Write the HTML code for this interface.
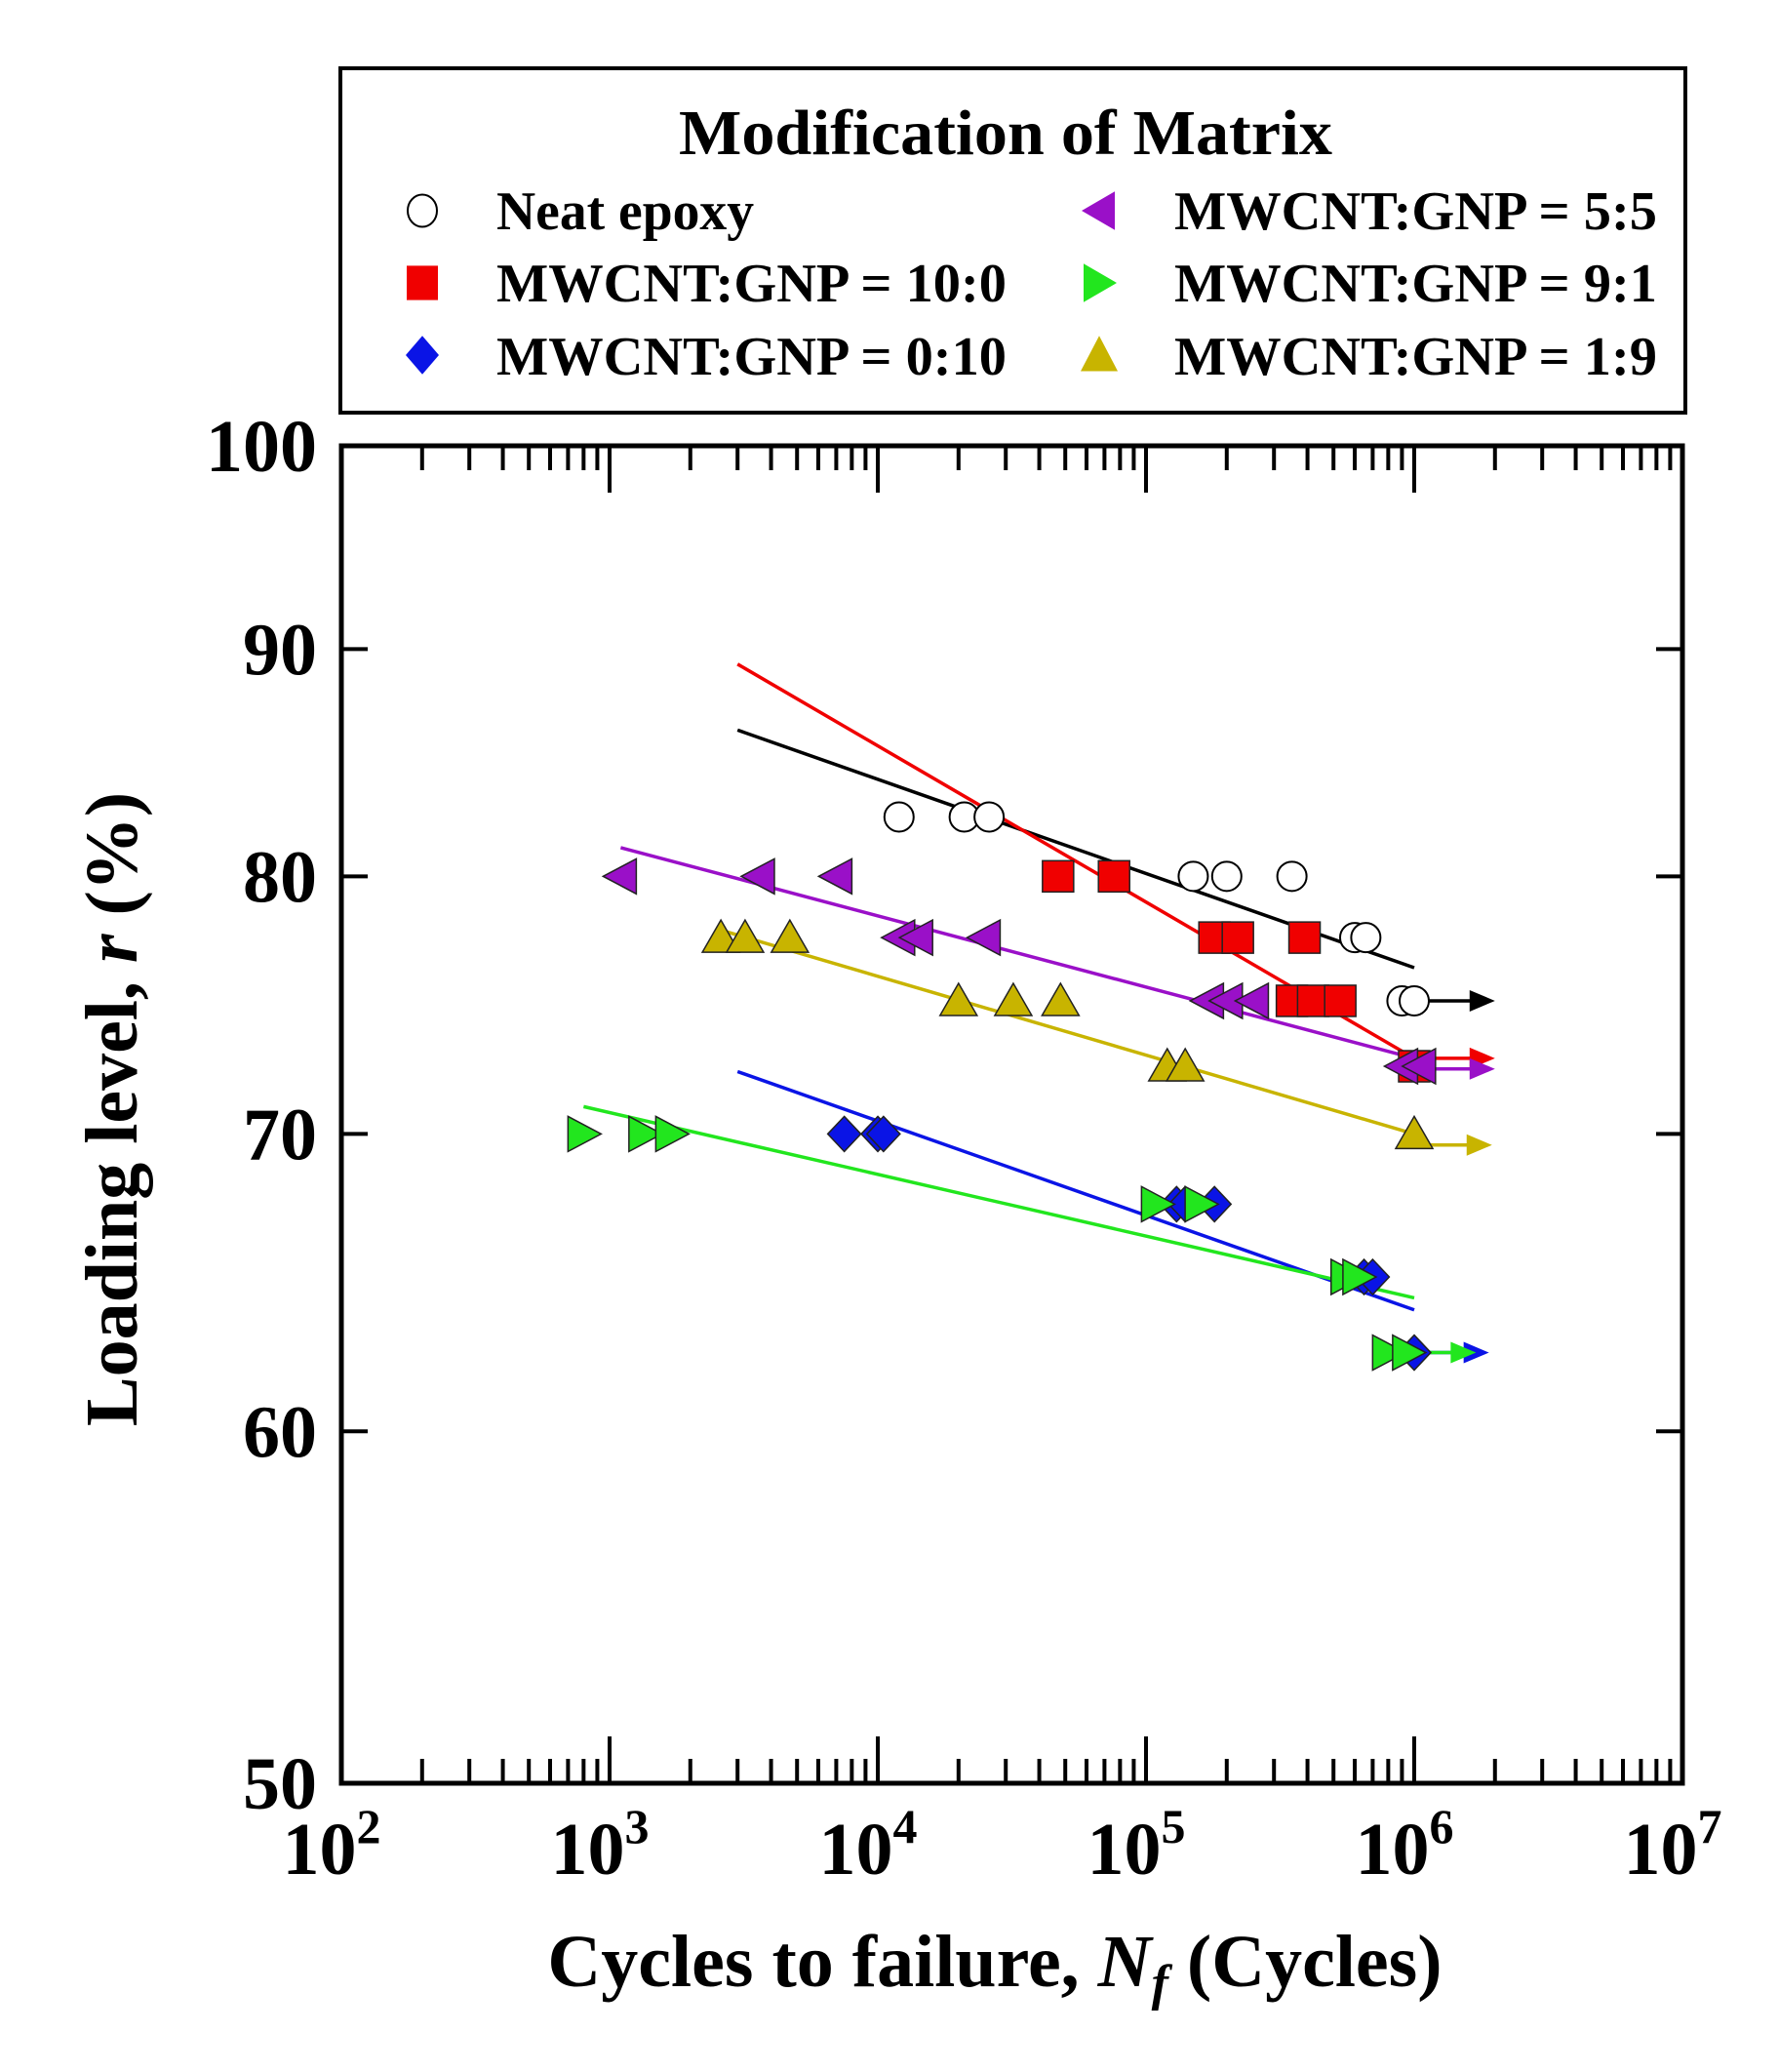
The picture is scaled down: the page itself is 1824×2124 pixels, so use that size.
<!DOCTYPE html>
<html><head><meta charset="utf-8"><style>
html,body{margin:0;padding:0;background:#fff;}
svg{display:block;}
text{font-family:"Liberation Serif",serif;font-weight:bold;fill:#000;}
</style></head><body>
<svg id="s" width="1824" height="2124" viewBox="0 0 1824 2124" xmlns="http://www.w3.org/2000/svg">
<rect x="0" y="0" width="1824" height="2124" fill="#fff"/>
<rect x="349" y="70" width="1379" height="353" fill="none" stroke="#000" stroke-width="4"/>
<text x="1031" y="158" font-size="66" text-anchor="middle" textLength="670" lengthAdjust="spacingAndGlyphs">Modification of Matrix</text>
<g font-size="56">
<text x="509" y="235" textLength="264" lengthAdjust="spacingAndGlyphs">Neat epoxy</text>
<text x="509" y="309" textLength="523" lengthAdjust="spacingAndGlyphs">MWCNT:GNP = 10:0</text>
<text x="509" y="384" textLength="523" lengthAdjust="spacingAndGlyphs">MWCNT:GNP = 0:10</text>
<text x="1204" y="235" textLength="495" lengthAdjust="spacingAndGlyphs">MWCNT:GNP = 5:5</text>
<text x="1204" y="309" textLength="495" lengthAdjust="spacingAndGlyphs">MWCNT:GNP = 9:1</text>
<text x="1204" y="384" textLength="495" lengthAdjust="spacingAndGlyphs">MWCNT:GNP = 1:9</text>
</g>
<g id="leg"></g>
<rect x="350" y="457" width="1375" height="1371" fill="none" stroke="#000" stroke-width="5"/>
<g id="ticks" stroke="#000" stroke-width="4"></g>
<g id="lines" stroke-width="3.5" fill="none"></g>
<g id="marks" stroke="#222" stroke-width="1.5"></g>
<g font-size="76" text-anchor="end" id="yl"></g>
<g font-size="76" text-anchor="middle" id="xl"></g>
<text x="1020" y="2036" font-size="76" text-anchor="middle">Cycles to failure, <tspan font-style="italic">N</tspan><tspan font-style="italic" font-size="52" dy="14">f</tspan><tspan dy="-14"> (Cycles)</tspan></text>
<text transform="translate(140,1137) rotate(-90)" font-size="76" text-anchor="middle">Loading level, <tspan font-style="italic">r</tspan> (%)</text>
</svg>
<script>
var NS="http://www.w3.org/2000/svg";
function X(v){return 350+275*(Math.log10(v)-2);}
function Y(r){return 457+4554*Math.log10(100/r);}
function el(p,t,a){var e=document.createElementNS(NS,t);for(var k in a)e.setAttribute(k,a[k]);document.getElementById(p).appendChild(e);return e;}
for(var d=2;d<7;d++){for(var m=1;m<10;m++){var x=X(m*Math.pow(10,d));var L=(m==1)?48:25;if(m==1&&d==2)continue;
el("ticks","line",{x1:x,y1:457,x2:x,y2:457+L});el("ticks","line",{x1:x,y1:1828,x2:x,y2:1828-L});}}
[90,80,70,60].forEach(function(r){var y=Y(r);el("ticks","line",{x1:350,y1:y,x2:377,y2:y});el("ticks","line",{x1:1725,y1:y,x2:1698,y2:y});});
[100,90,80,70,60,50].forEach(function(r){var t=el("yl","text",{x:325,y:Y(r)+26});t.textContent=r;});
for(var d=2;d<=7;d++){var t=el("xl","text",{x:X(Math.pow(10,d))-10,y:1921});t.textContent="10";var ts=document.createElementNS(NS,"tspan");ts.setAttribute("font-size","50");ts.setAttribute("dy","-32");ts.textContent=d;t.appendChild(ts);}
function marker(g,type,cx,cy,col,sy){var s=16;sy=sy||1;
 if(type=="o")el(g,"ellipse",{cx:cx,cy:cy,rx:15,ry:15*sy,fill:"#fff",stroke:"#000","stroke-width":2});
 else if(type=="s")el(g,"rect",{x:cx-s,y:cy-s*sy,width:2*s,height:2*s*sy,fill:col});
 else if(type=="d")el(g,"polygon",{points:[cx,cy-18*sy,cx+17,cy,cx,cy+18*sy,cx-17,cy].join(" "),fill:col});
 else if(type=="l")el(g,"polygon",{points:[cx-18,cy,cx+16,cy-18*sy,cx+16,cy+18*sy].join(" "),fill:col});
 else if(type=="r")el(g,"polygon",{points:[cx+18,cy,cx-16,cy-18*sy,cx-16,cy+18*sy].join(" "),fill:col});
 else if(type=="t")el(g,"polygon",{points:[cx,cy-18*sy,cx+19,cy+15*sy,cx-19,cy+15*sy].join(" "),fill:col});}
var S=[
{t:"o",c:"#000",p:[[1.2e4,82.5],[2.1e4,82.5],[2.6e4,82.5],[1.5e5,80],[2e5,80],[3.5e5,80],[6e5,77.5],[6.6e5,77.5],[9e5,75],[1e6,75]],l:[3e3,86.3,1e6,76.3],a:[1.05e6,75,2e6,75]},
{t:"s",c:"#f00000",p:[[4.7e4,80],[7.6e4,80],[1.8e5,77.5],[2.2e5,77.5],[3.9e5,77.5],[3.5e5,75],[4.2e5,75],[5.3e5,75],[1e6,72.5]],l:[3e3,89.3,1e6,72.8],a:[1.05e6,72.8,2e6,72.8]},
{t:"l",c:"#9a10c8",p:[[1.1e3,80],[3.6e3,80],[7e3,80],[1.2e4,77.5],[1.4e4,77.5],[2.5e4,77.5],[1.7e5,75],[2e5,75],[2.5e5,75],[9e5,72.5],[1.05e6,72.5]],l:[1.1e3,81.2,1e6,72.8],a:[1.05e6,72.4,2e6,72.4]},
{t:"t",c:"#c8b400",p:[[2.6e3,77.5],[3.2e3,77.5],[4.7e3,77.5],[2e4,75],[3.2e4,75],[4.8e4,75],[1.2e5,72.5],[1.4e5,72.5],[1e6,70]],l:[2.6e3,77.8,1e6,70],a:[1.05e6,69.6,1.95e6,69.6]},
{t:"d",c:"#0a14e6",p:[[7.5e3,70],[1e4,70],[1.05e4,70],[1.3e5,67.5],[1.4e5,67.5],[1.8e5,67.5],[6.5e5,65],[7e5,65],[1e6,62.5]],l:[3e3,72.3,1e6,63.9],a:[1.05e6,62.5,1.9e6,62.5]},
{t:"r",c:"#22e61e",p:[[8e2,70],[1.35e3,70],[1.7e3,70],[1.1e5,67.5],[1.6e5,67.5],[5.6e5,65],[6.2e5,65],[8e5,62.5],[9.5e5,62.5]],l:[8e2,71,1e6,64.3],a:[1.05e6,62.5,1.7e6,62.5]}];
S.forEach(function(s){var lc=s.t=="o"?"#000":s.c;
 el("lines","line",{x1:X(s.l[0]),y1:Y(s.l[1]),x2:X(s.l[2]),y2:Y(s.l[3]),stroke:lc});
 var ax2=X(s.a[2]),ay=Y(s.a[3]);
 el("lines","line",{x1:X(s.a[0]),y1:Y(s.a[1]),x2:ax2-14,y2:ay,stroke:lc});
 el("lines","polygon",{points:[ax2,ay,ax2-26,ay-11,ax2-26,ay+11].join(" "),fill:lc,stroke:"none"});
 s.p.forEach(function(p){marker("marks",s.t,X(p[0]),Y(p[1]),s.c);});});
marker("leg","o",433,216,null,1.1);marker("leg","s",433,290,"#f00000",1.1);marker("leg","d",433,364,"#0a14e6",1.1);
marker("leg","l",1127,216,"#9a10c8",1.1);marker("leg","r",1127,290,"#22e61e",1.1);marker("leg","t",1127,364,"#c8b400",1.1);
</script>
</body></html>
